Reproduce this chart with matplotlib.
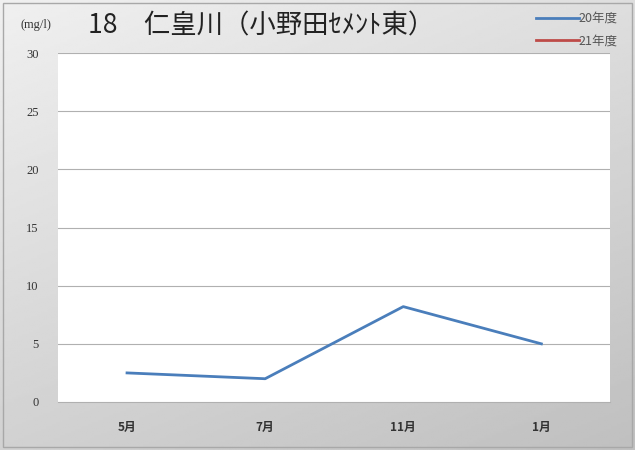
import numpy as np
import matplotlib
matplotlib.use("Agg")
import matplotlib.pyplot as plt
from matplotlib.patches import Rectangle

plt.rcParams['font.family'] = ['Noto Sans CJK JP', 'DejaVu Sans']

months = ["5月", "7月", "11月", "1月"]
values_20 = [2.5, 2.0, 8.2, 5.0]
values_21 = [np.nan, np.nan, np.nan, np.nan]
yticks = [0, 5, 10, 15, 20, 25, 30]

fig = plt.figure(figsize=(6.35, 4.5), dpi=100)

# soft grey gradient behind the chart
bg = fig.add_axes([0, 0, 1, 1], zorder=-10)
h, w = 200, 300
yy, xx = np.mgrid[0:1:h * 1j, 0:1:w * 1j]
grad = 0.94 - 0.12 * yy - 0.07 * xx
bg.imshow(grad, cmap='gray', vmin=0, vmax=1, aspect='auto', extent=[0, 1, 0, 1])
bg.add_patch(Rectangle((0.004, 0.006), 0.992, 0.988, fill=False,
                       edgecolor='#a8a8a8', linewidth=1.0, transform=bg.transAxes))
bg.set_axis_off()

ax = fig.add_axes([0.0913, 0.1067, 0.8700, 0.7753])
ax.set_facecolor('white')
x = np.arange(len(months))
ax.plot(x, values_20, color='#4a7ebb', linewidth=2.0, label='20年度')
ax.plot(x, values_21, color='#be4b48', linewidth=2.0, label='21年度')

ax.set_xlim(-0.5, len(months) - 0.5)
ax.set_ylim(0, 30)
ax.set_yticks(yticks)
ax.set_yticklabels([str(t) for t in yticks], family=['Liberation Serif'], fontsize=9, color='#333333')
ax.set_xticks(x)
ax.set_xticklabels(months, fontsize=8.5, color='#333333', fontweight='bold')
ax.tick_params(length=0, pad=14, axis='x')
ax.tick_params(length=0, pad=14, axis='y')
for t in yticks[1:]:
    ax.axhline(t, color='#b0b0b0', linewidth=0.8, zorder=0)
for s in ['top', 'right', 'left']:
    ax.spines[s].set_visible(False)
ax.spines['bottom'].set_color('#b0b0b0')

fig.text(0.033, 0.945, "(mg/l)", fontsize=9, family=['Liberation Serif'], color='#333333', va='center')
fig.text(0.138, 0.942, "18　仁皇川（小野田ｾﾒﾝﾄ東）", fontsize=19, color='#222222', va='center')

leg = fig.legend(loc='upper right', bbox_to_anchor=(0.985, 0.99), frameon=False,
                 fontsize=9, handlelength=3.4, handletextpad=0.0, labelspacing=0.75,
                 borderaxespad=0.2)
for t in leg.get_texts():
    t.set_color('#555555')

fig.savefig('out.png', dpi=100)
